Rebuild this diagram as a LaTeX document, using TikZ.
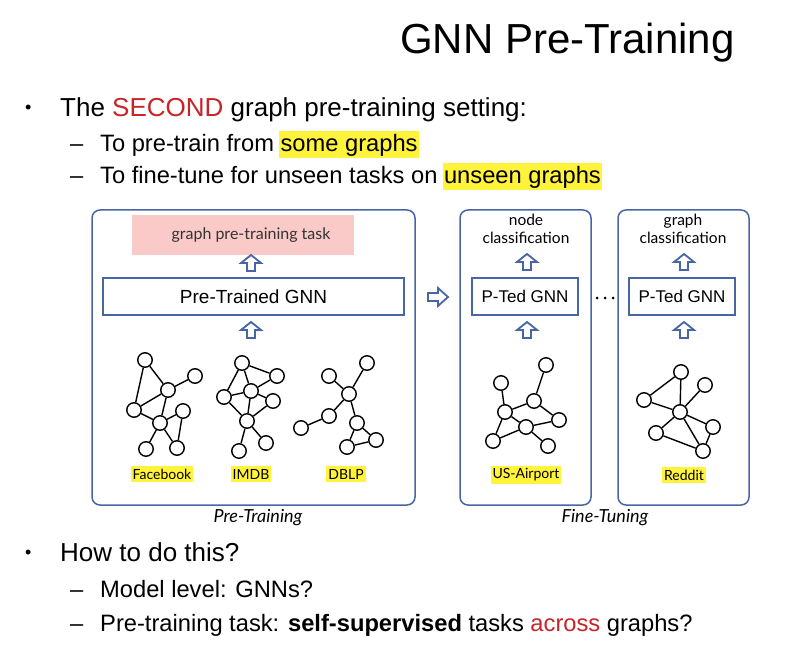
\documentclass[tikz,border=0pt]{standalone}
\usepackage{fontspec}
\setmainfont{Liberation Sans}
\newfontfamily\figfont{Lato}
\usetikzlibrary{positioning}
\definecolor{panelblue}{RGB}{72,102,165}
\definecolor{slidered}{RGB}{200,35,40}
\definecolor{hlyellow}{RGB}{255,243,60}
\definecolor{taskpink}{RGB}{250,202,200}

\newcommand\bulsize{\fontsize{26}{30}\selectfont}
\newcommand\subsize{\fontsize{23.7}{28}\selectfont}
\newcommand\hlbox[1]{{\setlength\fboxsep{1.5pt}\hspace*{-1.5pt}\colorbox{hlyellow}{\vrule height 19pt depth 4pt width 0pt#1}\hspace*{-1.5pt}}}

\tikzset{
  panel/.style={draw=panelblue, line width=1.5, rounded corners=8, inner sep=0},
  netbox/.style={draw=panelblue, line width=1.5, inner sep=0, fill=white},
  gnode/.style={circle, draw, line width=1.4, fill=white, minimum size=14.5, inner sep=0},
  gedge/.style={line width=1.4},
  dsname/.style={fill=hlyellow, inner xsep=2, inner ysep=2.5, font=\figfont\fontsize{14}{15}\selectfont},
  line/.style={anchor=base west, inner sep=0},
  uparr/.pic={\draw[panelblue, line width=1.8, fill=white, line join=miter]
    (-4,8) -- (-4,0) -- (-10,0) -- (0,-8) -- (10,0) -- (4,0) -- (4,8) -- cycle;},
  rightarr/.pic={\draw[panelblue, line width=1.8, fill=white, line join=miter]
    (-10,-4) -- (0,-4) -- (0,-9) -- (10,0) -- (0,9) -- (0,4) -- (-10,4) -- cycle;},
}

\begin{document}
\begin{tikzpicture}[x=1pt,y=-1pt]
  \useasboundingbox (0,0) rectangle (801,652);
  % Title and first bullet
  \node[line, font=\fontsize{42}{48}\selectfont] (title) at (400,54) {GNN Pre-Training};
  \node[line, font=\fontsize{18}{20}\selectfont] (dotA) at (25,114) {•};
  \node[line, font=\bulsize] (itemA) at (60,117) {The \textcolor{slidered}{SECOND} graph pre-training setting:};
  \node[line, font=\subsize] (dashA) at (70,152) {–};
  \node[line, font=\subsize] (subA) at (100,152) {To pre-train from \hlbox{some graphs}};
  \node[line, font=\subsize] (dashB) at (70,184) {–};
  \node[line, font=\subsize] (subB) at (100,184) {To fine-tune for unseen tasks on \hlbox{unseen graphs}};

  % Pre-training panel
  \node[panel, minimum width=323, minimum height=295] (pretrain) at (253.5,357.5) {};
  \node[fill=taskpink, minimum width=222, minimum height=40, text=black!80,
        font=\figfont\fontsize{16}{18}\selectfont] (pttask) at (243,235) {\hspace*{16pt}graph pre-training task};
  \node[netbox, minimum width=301, minimum height=37, font=\fontsize{19}{22}\selectfont] (ptgnn) at (253.5,296.5) {Pre-Trained GNN};
  \pic at (251,263) {uparr};
  \pic at (251,330) {uparr};

  % Facebook
  \foreach \i/\x/\y in {1/145/360, 2/195/376, 3/168/390, 4/134/410, 5/183/411, 6/160/423, 7/146/449, 8/177/448}
    \node[gnode] (fb\i) at (\x,\y) {};
  \foreach \u/\v in {1/3, 1/4, 3/2, 3/4, 3/6, 4/6, 6/5, 5/8, 6/7, 6/8}
    \draw[gedge] (fb\u) -- (fb\v);
  % IMDB
  \foreach \i/\x/\y in {1/242/363, 2/277/376, 3/251/391, 4/224/397, 5/273/401, 6/247/421, 7/239/451, 8/266/443}
    \node[gnode] (im\i) at (\x,\y) {};
  \foreach \u/\v in {1/2, 1/3, 1/4, 2/3, 3/4, 3/5, 3/6, 4/6, 5/6, 6/7, 6/8}
    \draw[gedge] (im\u) -- (im\v);
  % DBLP
  \foreach \i/\x/\y in {1/367/363, 2/329/376, 3/349/394, 4/329/416, 5/301/428, 6/357/423, 7/376/440, 8/347/447}
    \node[gnode] (db\i) at (\x,\y) {};
  \foreach \u/\v in {1/3, 2/3, 3/4, 4/5, 3/6, 6/7, 6/8, 7/8}
    \draw[gedge] (db\u) -- (db\v);

  \node[dsname] (fbname) at (162,474) {Facebook};
  \node[dsname] (imname) at (251,474) {IMDB};
  \node[dsname] (dbname) at (346,474) {DBLP};
  \node[font=\figfont\itshape\fontsize{18}{20}\selectfont] (ptlabel) at (258,518) {Pre-Training};

  \pic at (438,297) {rightarr};

  % Fine-tuning panels
  \node[panel, minimum width=131, minimum height=295] (nodetask) at (525.5,357.5) {};
  \node[align=center, inner sep=0, font=\figfont\fontsize{15.5}{18}\selectfont] (nodecls) at (526,229) {node\\classification};
  \node[netbox, minimum width=106, minimum height=37, font=\fontsize{17}{20}\selectfont] (ftgnnA) at (525,296.5) {P-Ted GNN};
  \pic at (527,262) {uparr};
  \pic at (527,330) {uparr};

  \node[panel, minimum width=131, minimum height=295] (graphtask) at (683.5,357.5) {};
  \node[align=center, inner sep=0, font=\figfont\fontsize{15.5}{18}\selectfont] (graphcls) at (683,229) {graph\\classification};
  \node[netbox, minimum width=106, minimum height=37, font=\fontsize{17}{20}\selectfont] (ftgnnB) at (682,296.5) {P-Ted GNN};
  \pic at (684,262) {uparr};
  \pic at (684,330) {uparr};

  \foreach \x in {597,605,613}
    \fill (\x,298) circle (1.5);

  % US-Airport
  \foreach \i/\x/\y in {1/546/365, 2/501/383, 3/534/401, 4/505/412, 5/559/420, 6/526/427, 7/493/441, 8/548/446}
    \node[gnode] (us\i) at (\x,\y) {};
  \foreach \u/\v in {1/3, 2/4, 3/4, 3/5, 4/6, 4/7, 6/5, 6/7, 6/8}
    \draw[gedge] (us\u) -- (us\v);
  % Reddit
  \foreach \i/\x/\y in {1/681/372, 2/705/385, 3/644/400, 4/680/412, 5/713/427, 6/656/433, 7/703/451}
    \node[gnode] (rd\i) at (\x,\y) {};
  \foreach \u/\v in {1/3, 1/4, 3/4, 4/2, 4/5, 4/6, 4/7, 5/7, 6/7}
    \draw[gedge] (rd\u) -- (rd\v);

  \node[dsname] (usname) at (526,475) {US-Airport};
  \node[dsname] (rdname) at (684,475) {Reddit};
  \node[font=\figfont\itshape\fontsize{18}{20}\selectfont] (ftlabel) at (605,518) {Fine-Tuning};

  % Second bullet
  \node[line, font=\fontsize{18}{20}\selectfont] (dotB) at (25,558) {•};
  \node[line, font=\bulsize] (itemB) at (60,561) {How to do this?};
  \node[line, font=\subsize] (dashC) at (70,597) {–};
  \node[line, font=\subsize] (subC) at (100,597) {Model level: GNNs?};
  \node[line, font=\subsize] (dashD) at (70,631) {–};
  \node[line, font=\subsize] (subD) at (100,631) {Pre-training task: \textbf{self-supervised} tasks \textcolor{slidered}{across} graphs?};
\end{tikzpicture}
\end{document}
